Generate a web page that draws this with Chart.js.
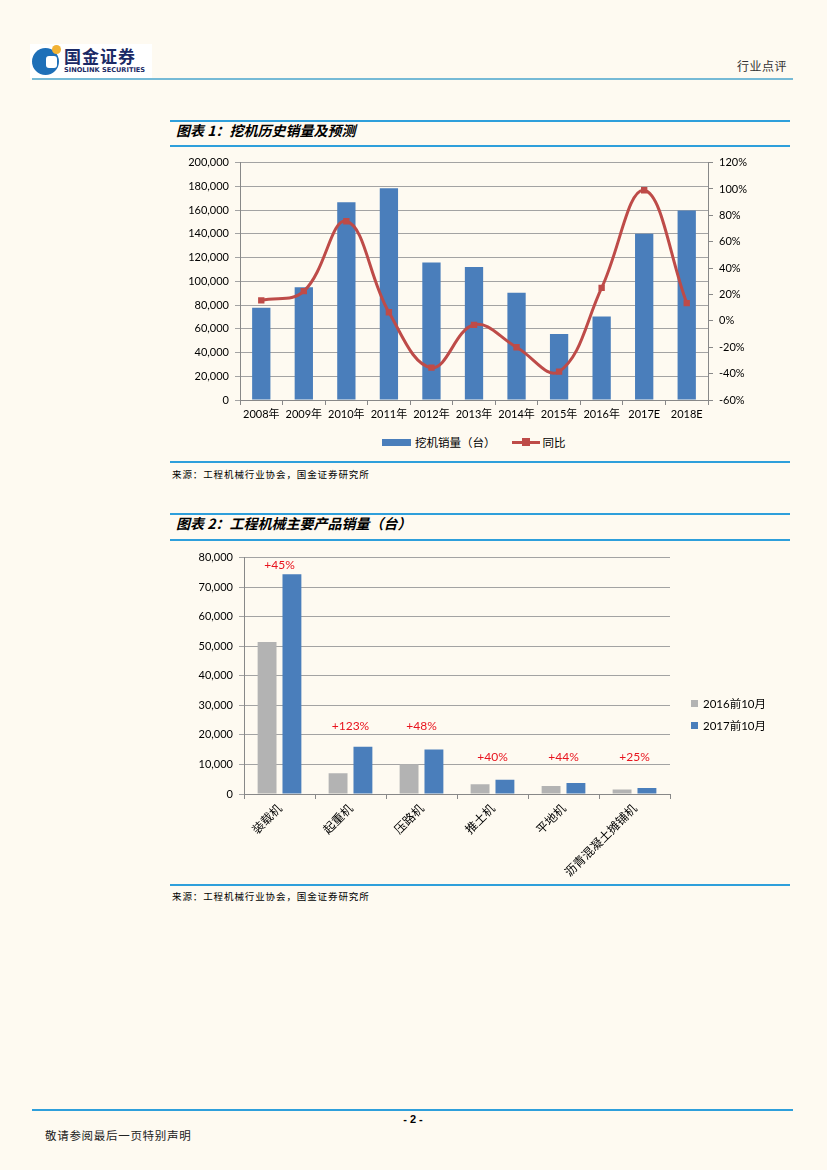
<!DOCTYPE html>
<html lang="zh-CN">
<head>
<meta charset="utf-8">
<script src="https://cdn.jsdelivr.net/npm/chart.js@4.4.0/dist/chart.umd.min.js"></script>
<style>
html, body { margin: 0; padding: 0; background: #FEFAF1; }
body { width: 827px; height: 1170px; position: relative; overflow: hidden; font-family: "Noto Sans CJK SC", sans-serif; color: #000; }
.abs { position: absolute; }
.hline { position: absolute; height: 2px; }
.blue-line { background: #2E9FDB; left: 170px; width: 620px; }
.title { position: absolute; left: 176px; font-size: 14px; font-weight: bold; font-style: italic; line-height: 16px; white-space: nowrap; }
.source { position: absolute; left: 172px; font-size: 9.5px; letter-spacing: 0.9px; line-height: 12px; white-space: nowrap; }
.legend { position: absolute; display: flex; align-items: center; font-size: 11.5px; white-space: nowrap; }
.legend .item { display: flex; align-items: center; }
canvas { position: absolute; }
</style>
</head>
<body>

<!-- header -->
<div class="abs" style="left:30px;top:44px;width:122px;height:34px;background:#fff;"></div>
<div class="abs" style="left:32px;top:48px;width:27px;height:27px;border-radius:50%;background:#1D6FB8;"></div>
<div class="abs" style="left:46px;top:56px;width:11px;height:12px;border-radius:3px;background:#fff;"></div>
<div class="abs" style="left:52px;top:45px;width:9px;height:9px;border-radius:50%;background:#F2B233;"></div>
<div class="abs" style="left:64px;top:46px;font-size:17px;font-weight:bold;color:#1B2A66;letter-spacing:1px;line-height:20px;">国金证券</div>
<div class="abs" style="left:64px;top:66px;font-family:'DejaVu Sans';font-size:6.6px;font-weight:bold;color:#1B2A66;line-height:8px;">SINOLINK SECURITIES</div>
<div class="abs" style="left:737px;top:59px;font-size:12px;line-height:14px;color:#333;letter-spacing:0.5px;">行业点评</div>
<div class="hline" style="left:32px;top:78px;width:761px;background:#76BAD6;"></div>

<!-- chart 1 -->
<div class="hline blue-line" style="top:120px;"></div>
<div class="title" style="top:122px;">图表 1：挖机历史销量及预测</div>
<div class="hline blue-line" style="top:145px;"></div>
<canvas id="chart1" width="620" height="280" style="left:170px;top:150px;width:620px;height:280px;"></canvas>
<div class="legend" id="legend1" style="left:382px;top:434px;"></div>
<div class="hline blue-line" style="top:461px;"></div>
<div class="source" style="top:468px;">来源：工程机械行业协会，国金证券研究所</div>

<!-- chart 2 -->
<div class="hline blue-line" style="top:513px;"></div>
<div class="title" style="top:515px;">图表 2：工程机械主要产品销量（台）</div>
<div class="hline blue-line" style="top:539px;"></div>
<canvas id="chart2" width="620" height="335" style="left:170px;top:545px;width:620px;height:335px;"></canvas>
<div class="legend" id="legend2" style="left:691px;top:692px;flex-direction:column;align-items:flex-start;font-family:Lato,'Noto Sans CJK SC';font-size:11.5px;"></div>
<div class="hline blue-line" style="top:884px;"></div>
<div class="source" style="top:890px;">来源：工程机械行业协会，国金证券研究所</div>

<!-- footer -->
<div class="hline" style="left:32px;top:1109px;width:761px;background:#2E9FDB;"></div>
<div class="abs" style="left:400px;top:1112px;width:26px;text-align:center;font-family:'Liberation Sans';font-weight:bold;font-size:11px;line-height:14px;">- 2 -</div>
<div class="abs" style="left:45px;top:1128px;font-size:11.5px;letter-spacing:0.7px;line-height:14px;color:#222;">敬请参阅最后一页特别声明</div>

<script>
// ---- chart 1 data ----
const years = ["2008年", "2009年", "2010年", "2011年", "2012年", "2013年", "2014年", "2015年", "2016年", "2017E", "2018E"];
const excavatorSales = [77800, 95000, 166700, 178300, 115800, 112000, 90300, 55500, 70300, 140000, 159700];
const yoyGrowth = [15.5, 22.5, 75.5, 6.5, -35.5, -3, -20, -38.5, 25, 99, 13.5];
const salesLabel = "挖机销量（台）";
const yoyLabel = "同比";

// ---- chart 2 data ----
const products = ["装载机", "起重机", "压路机", "推土机", "平地机", "沥青混凝土摊铺机"];
const sales2016 = [51400, 7000, 10100, 3300, 2700, 1500];
const sales2017 = [74400, 16000, 15100, 4800, 3700, 2000];
const seriesNames2 = ["2016前10月", "2017前10月"];
const growthLabels = ["+45%", "+123%", "+48%", "+40%", "+44%", "+25%"];
const growthLabelLevel = [77300, 22900, 22900, 12400, 12400, 12400];

const BLUE = "#4A7EBB";
const RED = "#BE4B48";
const GRAY = "#B3B3B3";
const GRID = "#A3A3A3";
const numFont = { family: "Lato, 'Noto Sans CJK SC'", size: 11 };

function fmt(v) {
  return v.toLocaleString("en-US");
}

// chart 1
new Chart(document.getElementById("chart1"), {
  type: "bar",
  data: {
    labels: years,
    datasets: [
      {
        type: "line",
        label: yoyLabel,
        data: yoyGrowth,
        yAxisID: "y1",
        borderColor: RED,
        backgroundColor: RED,
        borderWidth: 3,
        tension: 0.4,
        pointStyle: "rect",
        pointRadius: 4.5,
        pointBorderWidth: 0,
        order: 1
      },
      {
        label: salesLabel,
        data: excavatorSales,
        yAxisID: "y",
        backgroundColor: BLUE,
        categoryPercentage: 1,
        barPercentage: 0.43,
        order: 2
      }
    ]
  },
  options: {
    responsive: false,
    animation: false,
    layout: { padding: { top: 10, left: 0, right: 0, bottom: 0 } },
    plugins: { legend: { display: false }, tooltip: { enabled: false } },
    scales: {
      x: {
        grid: { offset: true, drawOnChartArea: false, color: "#888", tickLength: 5 },
        border: { color: "#888" },
        ticks: { color: "#000", font: numFont, padding: 3, maxRotation: 0 },
        afterFit: s => { s.height = 30; }
      },
      y: {
        position: "left",
        min: 0, max: 200000,
        ticks: { stepSize: 20000, color: "#000", font: numFont, padding: 6, callback: v => fmt(v) },
        grid: { color: GRID, tickLength: 5 },
        border: { color: "#888" },
        afterFit: s => { s.width = 70; }
      },
      y1: {
        position: "right",
        min: -60, max: 120,
        ticks: { stepSize: 20, color: "#000", font: numFont, padding: 6, callback: v => v + "%" },
        grid: { drawOnChartArea: false, color: "#888", tickLength: 5 },
        border: { color: "#888" },
        afterFit: s => { s.width = 82; }
      }
    }
  }
});

// chart 1 legend
(function () {
  const el = document.getElementById("legend1");
  el.innerHTML =
    '<div class="item"><span style="display:inline-block;width:29px;height:7px;background:' + BLUE + ';margin-right:4px"></span>' + salesLabel + '</div>' +
    '<div class="item" style="margin-left:16px"><span style="position:relative;display:inline-block;width:28px;height:8px;margin-right:3px">' +
    '<span style="position:absolute;left:0;top:2.5px;width:28px;height:3px;background:' + RED + '"></span>' +
    '<span style="position:absolute;left:10px;top:0;width:8px;height:8px;background:' + RED + '"></span></span>' + yoyLabel + '</div>';
})();

// percentage labels above the groups
const growthPlugin = {
  id: "growthLabels",
  afterDatasetsDraw(chart) {
    const ctx = chart.ctx;
    const xs = chart.scales.x, ys = chart.scales.y;
    ctx.save();
    ctx.fillStyle = "#E8141E";
    ctx.font = "12px Lato, 'Noto Sans CJK SC'";
    ctx.textAlign = "center";
    ctx.textBaseline = "middle";
    growthLabels.forEach((t, i) => {
      ctx.fillText(t, xs.getPixelForValue(i), ys.getPixelForValue(growthLabelLevel[i]));
    });
    ctx.restore();
  }
};

// chart 2
new Chart(document.getElementById("chart2"), {
  type: "bar",
  data: {
    labels: products,
    datasets: [
      { label: seriesNames2[0], data: sales2016, backgroundColor: GRAY, categoryPercentage: 0.7, barPercentage: 0.76 },
      { label: seriesNames2[1], data: sales2017, backgroundColor: BLUE, categoryPercentage: 0.7, barPercentage: 0.76 }
    ]
  },
  options: {
    responsive: false,
    animation: false,
    layout: { padding: { top: 9, left: 0, right: 120, bottom: 0 } },
    plugins: { legend: { display: false }, tooltip: { enabled: false } },
    scales: {
      x: {
        grid: { offset: true, drawOnChartArea: false, color: "#888", tickLength: 5 },
        border: { color: "#888" },
        ticks: {
          color: "#000",
          font: { family: "'Noto Sans CJK SC'", size: 12 },
          minRotation: 45, maxRotation: 45, padding: 2, autoSkip: false
        },
        afterFit: s => { s.height = 86; }
      },
      y: {
        min: 0, max: 80000,
        ticks: { stepSize: 10000, color: "#000", font: numFont, padding: 6, callback: v => fmt(v) },
        grid: { color: GRID, tickLength: 5 },
        border: { color: "#888" },
        afterFit: s => { s.width = 74; }
      }
    }
  },
  plugins: [growthPlugin]
});

// chart 2 legend
(function () {
  const el = document.getElementById("legend2");
  const cols = [GRAY, BLUE];
  el.innerHTML = seriesNames2.map((n, i) =>
    '<div class="item" style="height:22px"><span style="display:inline-block;width:7px;height:7px;background:' + cols[i] + ';margin-right:5px"></span>' + n + '</div>'
  ).join("");
})();
</script>
</body>
</html>
